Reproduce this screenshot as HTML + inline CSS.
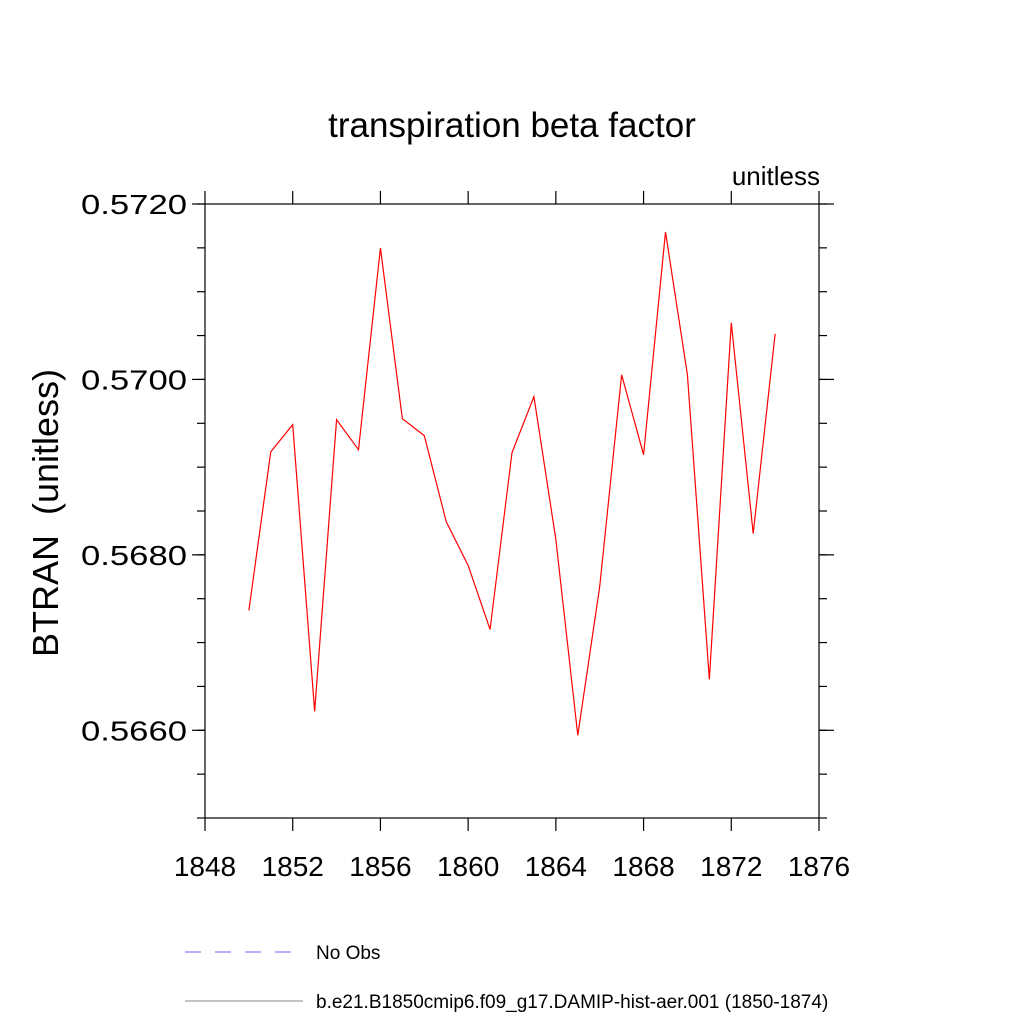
<!DOCTYPE html>
<html><head><meta charset="utf-8"><style>
body{margin:0;background:#fff}
svg text{font-family:"Liberation Sans",sans-serif;fill:#000}
</style></head><body>
<svg id="chart" width="1024" height="1024" viewBox="0 0 1024 1024" xmlns="http://www.w3.org/2000/svg">
<text x="512" y="137" font-size="35" text-anchor="middle">transpiration beta factor</text>
<text x="820" y="185" font-size="26" text-anchor="end">unitless</text>
<text transform="translate(58,513) rotate(-90)" font-size="36" text-anchor="middle" xml:space="preserve">BTRAN  (unitless)</text>
<rect x="205" y="204" width="614" height="614" fill="none" stroke="#000" stroke-width="1.2"/>
<g id="axes"></g>
<polyline id="series" fill="none" stroke="#ff0000" stroke-width="1.2"/>
<line x1="185" y1="952" x2="292" y2="952" stroke="#6666ff" stroke-width="1" stroke-dasharray="16,14"/>
<text x="316" y="959" font-size="19">No Obs</text>
<line x1="185" y1="1001" x2="303" y2="1001" stroke="#888" stroke-width="1"/>
<text x="316" y="1008" font-size="19">b.e21.B1850cmip6.f09_g17.DAMIP-hist-aer.001 (1850-1874)</text>
</svg>
<script>
const years=[1850,1851,1852,1853,1854,1855,1856,1857,1858,1859,1860,1861,1862,1863,1864,1865,1866,1867,1868,1869,1870,1871,1872,1873,1874];
const values=[0.567366,0.569176,0.569484,0.566216,0.569541,0.569199,0.571499,0.569552,0.569359,0.568379,0.567879,0.56715,0.569165,0.569803,0.568175,0.565943,0.567639,0.570053,0.569142,0.571681,0.570053,0.566581,0.570645,0.568243,0.57052];
const xTicks=[1848,1852,1856,1860,1864,1868,1872,1876];
const yTicks=[0.5660,0.5680,0.5700,0.5720];
const yTickLabels=["0.5660","0.5680","0.5700","0.5720"];
const x0=205,x1=819,y0=818,y1=204,xmin=1848,xmax=1876,ymin=0.5650,ymax=0.5720;
const X=v=>x0+(v-xmin)/(xmax-xmin)*(x1-x0);
const Y=v=>y0-(v-ymin)/(ymax-ymin)*(y0-y1);
const NS="http://www.w3.org/2000/svg";
const g=document.getElementById('axes');
function ln(a,b,c,d,name){const l=document.createElementNS(NS,'line');l.setAttribute('x1',a);l.setAttribute('y1',b);l.setAttribute('x2',c);l.setAttribute('y2',d);l.setAttribute('stroke','#000');l.setAttribute('stroke-width','1.2');


g.appendChild(l);}
function tx(x,y,s,anchor,name,len){const t=document.createElementNS(NS,'text');t.setAttribute('x',x);t.setAttribute('y',y);t.setAttribute('font-size','28');t.setAttribute('text-anchor',anchor);if(len){t.setAttribute('textLength',len);t.setAttribute('lengthAdjust','spacingAndGlyphs');}t.textContent=s;


g.appendChild(t);}
xTicks.forEach(v=>{const x=X(v);ln(x,818,x,831,'x-tick');ln(x,204,x,191,'x-tick-top');tx(x,876,String(v),'middle','x-tick-label');});
for(let v=ymin;v<=ymax+1e-9;v+=0.0005){const y=Y(v);ln(205,y,197,y,'y-minor-tick');ln(819,y,827,y,'y-minor-tick-right');}
yTicks.forEach((v,i)=>{const y=Y(v);ln(205,y,192,y,'y-tick');ln(819,y,834,y,'y-tick-right');tx(187,y+10,yTickLabels[i],'end','y-tick-label',106);});
document.getElementById('series').setAttribute('points',years.map((yr,i)=>X(yr)+','+Y(values[i])).join(' '));
</script>
</body></html>
